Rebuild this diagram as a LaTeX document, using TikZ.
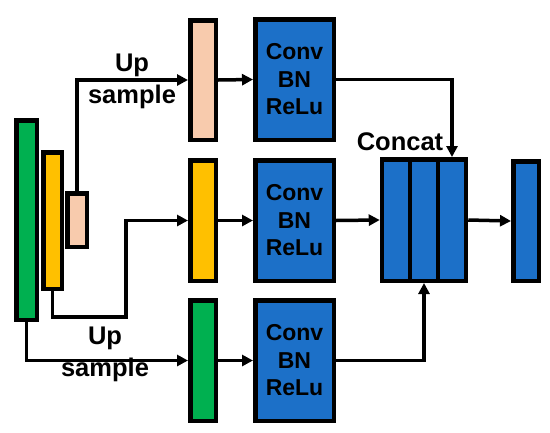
\documentclass[tikz,border=0pt]{standalone}
\usepackage{fontspec}
\setmainfont{Liberation Sans}
\usetikzlibrary{arrows.meta, positioning}

\definecolor{convblue}{RGB}{28,112,200}
\definecolor{featgreen}{RGB}{0,176,80}
\definecolor{featyellow}{RGB}{255,192,0}
\definecolor{featpeach}{RGB}{248,203,173}

\begin{document}
\begin{tikzpicture}[
    x=1pt, y=-1pt,
    >={Triangle[length=11pt, width=11pt]},
    feat/.style={
        rectangle,
        draw=black,
        line width=4.5pt,
        inner sep=0pt,
        minimum width=25.5pt,
        minimum height=120.5pt
    },
    convbox/.style={
        rectangle,
        draw=black,
        line width=4.5pt,
        fill=convblue,
        inner sep=0pt,
        minimum width=78.5pt,
        minimum height=120.5pt,
        align=center,
        font=\fontsize{23}{27.5}\selectfont\bfseries
    },
    catbox/.style={
        rectangle,
        draw=black,
        line width=4.5pt,
        fill=convblue,
        inner sep=0pt,
        minimum width=28pt,
        minimum height=121.5pt
    },
    lbl/.style={
        align=center,
        inner sep=0pt,
        font=\fontsize{25.5}{32}\selectfont\bfseries
    },
    link/.style={
        ->,
        line width=3.5pt,
        black
    }
]

\useasboundingbox (0,0) rectangle (550,432);

% =============== PIRAMIDE DE ENTRADA (esquerda) ===============

\node[feat, fill=featgreen, minimum width=20.5pt, minimum height=199.5pt] (green_in) at (26.5, 220) {};
\node[feat, fill=featyellow, minimum width=18.5pt, minimum height=136.5pt] (yellow_in) at (52.5, 220.5) {};
\node[feat, fill=featpeach, minimum width=19.5pt, minimum height=53.5pt] (peach_in) at (77, 220) {};

% =============== RAMOS (centro) ===============

\node[feat, fill=featpeach, minimum height=119.5pt] (peach_up) at (203, 80) {};
\node[feat, fill=featyellow] (yellow_mid) at (203, 220.5) {};
\node[feat, fill=featgreen] (green_up) at (203, 360.5) {};

\node[convbox] (conv_top) at (294.5, 79.5) {Conv\\BN\\ReLu};
\node[convbox] (conv_mid) at (294.5, 220.5) {Conv\\BN\\ReLu};
\node[convbox] (conv_bot) at (294.5, 360.5) {Conv\\BN\\ReLu};

% =============== CONCAT E SAIDA (direita) ===============

\node[catbox] (cat_a) at (396, 220) {};
\node[catbox] (cat_b) at (424, 220) {};
\node[catbox] (cat_c) at (452, 220) {};
\node[feat, fill=convblue, minimum height=119.5pt] (out) at (526, 221) {};

% Rotulos
\node[lbl] (lbl_up_top) at (132, 81) {Up\\sample};
\node[lbl] (lbl_up_bot) at (105, 354) {Up\\sample};
\node[lbl] (lbl_concat) at (400, 142) {Concat};

% =============== LIGACOES ===============

\coordinate (yellow_bend) at (126, 317);

\draw[link] (peach_in.north) |- (peach_up.west);
\draw[link] (yellow_in.south) |- (yellow_bend) |- (yellow_mid.west);
\draw[link] (green_in.south) |- (green_up.west);

\draw[link] (peach_up.east) -- (conv_top.west);
\draw[link] (yellow_mid.east) -- (conv_mid.west);
\draw[link] (green_up.east) -- (conv_bot.west);

\draw[link] (conv_top.east) -| (cat_c.north);
\draw[link] (conv_mid.east) -- (cat_a.west);
\draw[link] (conv_bot.east) -| (cat_b.south);

\draw[link] (cat_c.east) -- (out.west);

\end{tikzpicture}
\end{document}
